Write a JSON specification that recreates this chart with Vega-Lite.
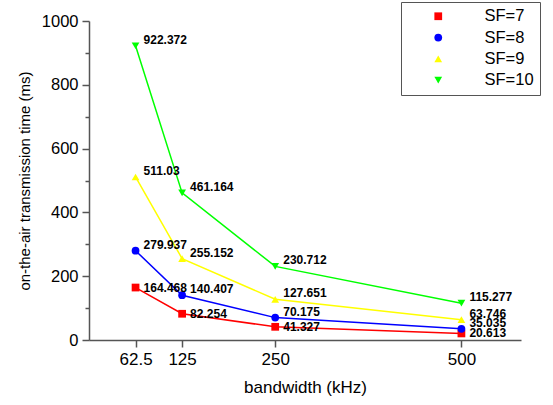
{
  "$schema": "https://vega.github.io/schema/vega-lite/v6.json",
  "width": 432,
  "height": 319,
  "autosize": "none",
  "padding": {"left": 89, "top": 21, "right": 32, "bottom": 65},
  "background": "white",
  "config": {
    "view": {"stroke": null},
    "font": "Liberation Sans"
  },
  "data": {
    "values": [
      {"bw": 62.5, "t": 164.468, "SF": "SF=7"},
      {"bw": 125, "t": 82.254, "SF": "SF=7"},
      {"bw": 250, "t": 41.327, "SF": "SF=7"},
      {"bw": 500, "t": 20.613, "SF": "SF=7"},
      {"bw": 62.5, "t": 279.937, "SF": "SF=8"},
      {"bw": 125, "t": 140.407, "SF": "SF=8"},
      {"bw": 250, "t": 70.175, "SF": "SF=8"},
      {"bw": 500, "t": 35.035, "SF": "SF=8"},
      {"bw": 62.5, "t": 511.03, "SF": "SF=9"},
      {"bw": 125, "t": 255.152, "SF": "SF=9"},
      {"bw": 250, "t": 127.651, "SF": "SF=9"},
      {"bw": 500, "t": 63.746, "SF": "SF=9"},
      {"bw": 62.5, "t": 922.372, "SF": "SF=10"},
      {"bw": 125, "t": 461.164, "SF": "SF=10"},
      {"bw": 250, "t": 230.712, "SF": "SF=10"},
      {"bw": 500, "t": 115.277, "SF": "SF=10"}
    ]
  },
  "encoding": {
    "x": {
      "field": "bw", "type": "quantitative",
      "scale": {"domain": [0, 580], "nice": false, "zero": false},
      "axis": {
        "title": "bandwidth (kHz)",
        "values": [62.5, 125, 250, 500],
        "format": ".1~f",
        "grid": false,
        "domainColor": "#555555", "domainWidth": 1.5,
        "tickColor": "#555555", "tickWidth": 1.5, "tickSize": 7,
        "labelFont": "Liberation Sans", "labelFontSize": 17, "labelColor": "black", "labelPadding": 4,
        "titleFont": "Liberation Sans", "titleFontSize": 17, "titleFontWeight": "normal", "titleColor": "black", "titlePadding": 12
      }
    },
    "y": {
      "field": "t", "type": "quantitative",
      "scale": {"domain": [0, 1000], "nice": false},
      "axis": {
        "title": "on-the-air transmission time (ms)",
        "values": [0, 100, 200, 300, 400, 500, 600, 700, 800, 900, 1000],
        "labelExpr": "datum.value % 200 === 0 ? datum.label : ''",
        "format": "d",
        "grid": false,
        "domainColor": "#555555", "domainWidth": 1.5,
        "tickColor": "#555555", "tickWidth": 1.5,
        "tickSize": {"condition": {"test": "datum.value % 200 === 0", "value": 7}, "value": 4},
        "labelFont": "Liberation Sans", "labelFontSize": 16.5, "labelColor": "black", "labelPadding": 4,
        "titleFont": "Liberation Sans", "titleFontSize": 15, "titleFontWeight": "normal", "titleColor": "black", "titlePadding": 9
      }
    }
  },
  "layer": [
    {"transform": [{"filter": "datum.SF === 'SF=7'"}], "mark": {"type": "line", "strokeWidth": 1.5, "color": "#ff0000"}, "encoding": {}},
    {"transform": [{"filter": "datum.SF === 'SF=8'"}], "mark": {"type": "line", "strokeWidth": 1.5, "color": "#0000ff"}, "encoding": {}},
    {"transform": [{"filter": "datum.SF === 'SF=9'"}], "mark": {"type": "line", "strokeWidth": 1.5, "color": "#ffff00"}, "encoding": {}},
    {"transform": [{"filter": "datum.SF === 'SF=10'"}], "mark": {"type": "line", "strokeWidth": 1.5, "color": "#00ff00"}, "encoding": {}},
    {
      "mark": {"type": "point", "filled": true, "opacity": 1, "size": 60},
      "encoding": {
        "color": {
          "field": "SF", "type": "nominal",
          "scale": {"domain": ["SF=7", "SF=8", "SF=9", "SF=10"], "range": ["#ff0000", "#0000ff", "#ffff00", "#00ff00"]},
          "legend": {
            "title": null,
            "orient": "top-right",
            "offset": -19,
            "padding": 6,
            "strokeColor": "#555555",
            "fillColor": "white",
            "symbolSize": 60,
            "symbolOffset": 23,
            "rowPadding": 4.3,
            "labelOffset": 38,
            "labelFont": "Liberation Sans",
            "labelFontSize": 16.5,
            "labelColor": "black"
          }
        },
        "shape": {
          "field": "SF", "type": "nominal",
          "scale": {"domain": ["SF=7", "SF=8", "SF=9", "SF=10"], "range": ["square", "circle", "triangle-up", "triangle-down"]},
          "legend": {
            "title": null,
            "orient": "top-right",
            "offset": -19,
            "padding": 6,
            "strokeColor": "#555555",
            "fillColor": "white",
            "symbolSize": 60,
            "symbolOffset": 23,
            "rowPadding": 4.3,
            "labelOffset": 38,
            "labelFont": "Liberation Sans",
            "labelFontSize": 16.5,
            "labelColor": "black"
          }
        }
      }
    },
    {
      "transform": [{"filter": "datum.SF === 'SF=7'"}],
      "mark": {"type": "text", "align": "left", "baseline": "middle", "dx": 8, "dy": 0, "font": "Liberation Sans", "fontSize": 12, "fontWeight": "bold", "color": "black"},
      "encoding": {"text": {"field": "t", "type": "quantitative"}}
    },
    {
      "transform": [{"filter": "datum.SF !== 'SF=7'"}],
      "mark": {"type": "text", "align": "left", "baseline": "middle", "dx": 8, "dy": -6, "font": "Liberation Sans", "fontSize": 12, "fontWeight": "bold", "color": "black"},
      "encoding": {"text": {"field": "t", "type": "quantitative"}}
    }
  ]
}
